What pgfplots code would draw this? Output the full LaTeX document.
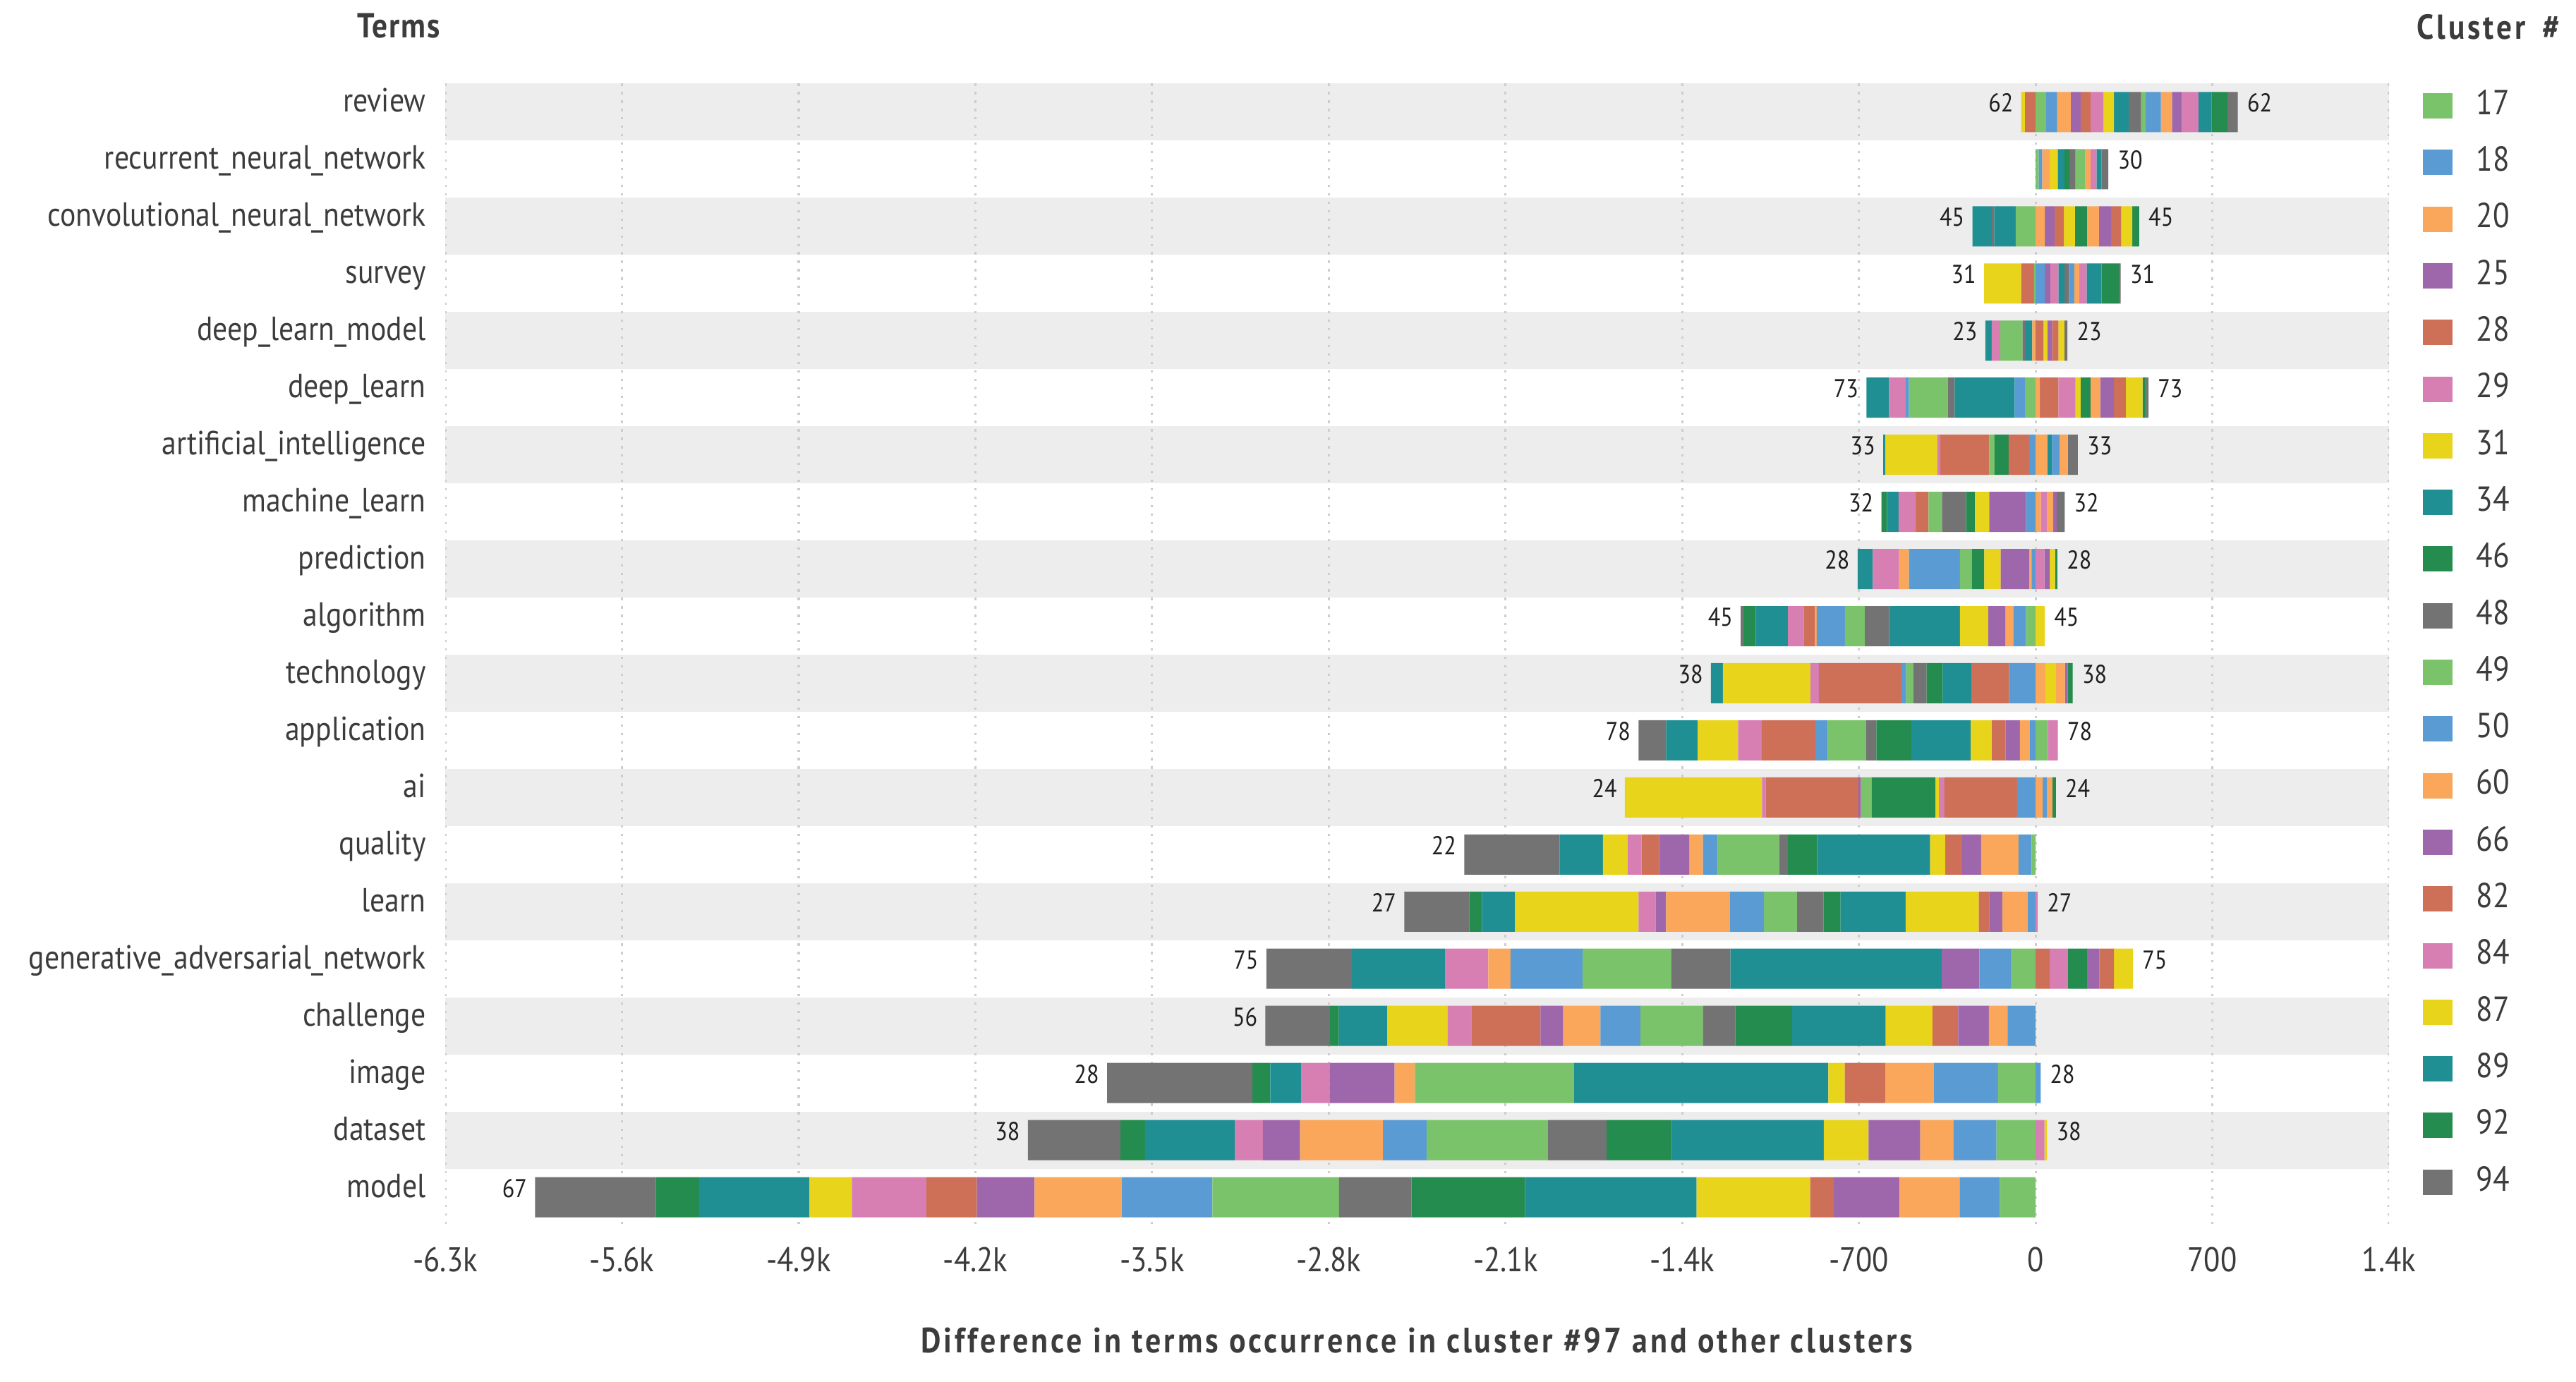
\documentclass[border=0pt]{standalone}
\usepackage{fontspec}
\setmainfont{PT Sans}[FakeStretch=0.88]
\usepackage{pgfplots}
\usepackage{pgfplotstable}
\pgfplotsset{compat=1.18}

\definecolor{cgreen}{HTML}{7AC36A}
\definecolor{cblue}{HTML}{5A9BD4}
\definecolor{corange}{HTML}{FAA75B}
\definecolor{cpurple}{HTML}{9E67AB}
\definecolor{cred}{HTML}{CE7058}
\definecolor{cpink}{HTML}{D77FB3}
\definecolor{cyellow}{HTML}{E9D41C}
\definecolor{cteal}{HTML}{1F8F94}
\definecolor{cdkgreen}{HTML}{258C50}
\definecolor{cgray}{HTML}{737373}
\definecolor{band}{HTML}{EDEDED}
\definecolor{gridc}{HTML}{CDCDCD}
\definecolor{txt}{HTML}{3C3C3C}

% rows: 0 = review (top) ... 19 = model (bottom)
% negative parts, stacked leftwards from 0
\pgfplotstableread{
y  s17 s18 s20 s25 s28 s29 s31 s34 s46 s48 s49 s50 s60 s66 s82 s84 s87 s89 s92 s94
0  0 0 0 0 0 0 0 0 0 0 0 0 0 0 -42 0 -15 0 0 0
1  0 0 0 0 0 0 0 0 0 0 0 0 0 0 0 0 0 0 0 0
2  -79 0 0 0 0 0 0 -85 0 -10 0 0 0 0 0 0 0 -76 0 0
3  -6 0 0 0 -51 0 -147 0 0 0 0 0 0 0 0 0 0 0 0 0
4  0 0 -13 0 0 0 0 -27 0 -12 -88 0 0 0 0 -34 0 -25 0 0
5  -42 -41 0 0 0 0 0 -238 0 -27 -154 -12 0 0 0 -66 0 -90 0 0
6  0 -25 0 0 -82 0 0 0 -56 0 -21 0 0 0 -193 -13 -205 -9 0 0
7  0 -38 0 -146 0 0 -56 0 -35 -96 -53 0 0 0 -53 -66 0 -46 -22 0
8  0 -16 -9 -113 0 0 -65 0 -50 0 -47 -202 -39 0 0 -104 0 -60 0 0
9  -38 -49 -32 -68 0 0 -113 -280 0 -96 -79 -112 -8 0 -44 -62 0 -128 -46 -13
10 0 -105 0 0 -149 0 0 -114 -64 -53 -28 -19 0 0 -327 -33 -347 -47 0 0
11 0 -22 -40 -57 -54 0 -84 -235 -139 -40 -152 -50 0 0 -212 -94 -160 -125 0 -109
12 0 -73 0 0 -288 -21 -14 0 -254 0 -42 0 0 -10 -367 -15 -543 0 0 0
13 -16 -52 -148 -75 -67 0 -60 -448 -116 -34 -243 -59 -53 -121 -69 -56 -97 -172 0 -377
14 0 -31 -101 -52 -41 0 -290 -258 -67 -105 -131 -134 -254 -41 0 -68 -489 -131 -50 -258
15 -98 -125 0 -149 0 0 0 -837 0 -234 -351 -286 -88 0 0 -171 0 -369 0 -339
16 0 -111 -74 -122 -102 0 -185 -371 -224 -129 -247 -159 -147 -90 -274 -94 -239 -192 -35 -256
17 -149 -255 -191 0 -161 0 -65 -1007 0 0 -631 0 -80 -258 0 -111 0 -124 -70 -576
18 -155 -170 -132 -205 0 0 -177 -602 -258 -232 -481 -173 -329 -147 0 -111 0 -356 -97 -367
19 -141 -160 -238 -261 -93 0 -450 -679 -450 -287 -502 -360 -344 -229 -200 -295 -168 -437 -172 -478
}\negdata

% positive parts, stacked rightwards from 0
\pgfplotstableread{
y  s17 s18 s20 s25 s28 s29 s31 s34 s46 s48 s49 s50 s60 s66 s82 s84 s87 s89 s92 s94
0  41 44 54 39 39 52 41 59 0 49 17 61 44 39 0 66 0 52 63 41
1  12 14 30 0 0 0 31 27 20 24 37 0 22 0 0 24 0 20 0 27
2  0 0 36 39 37 0 44 0 47 0 0 0 48 47 41 0 44 0 27 0
3  0 36 0 22 0 32 0 24 0 18 0 21 20 0 0 29 0 59 69 7
4  0 0 0 0 31 0 15 0 0 0 0 0 0 19 25 0 24 0 0 12
5  0 0 17 0 73 68 20 0 39 0 0 0 39 54 47 0 66 0 14 10
6  0 0 46 0 0 0 0 19 0 0 0 29 33 0 0 0 0 0 0 40
7  0 0 20 0 0 26 0 0 0 0 0 0 23 15 0 0 0 0 0 31
8  0 0 0 0 0 35 0 0 0 0 0 0 0 21 0 0 21 0 9 0
9  0 0 0 0 0 0 0 0 0 0 0 0 0 0 0 0 36 0 0 0
10 0 0 40 0 0 0 40 0 0 0 0 0 36 11 0 0 0 0 20 0
11 48 0 0 0 0 40 0 0 0 0 0 0 0 0 0 0 0 0 0 0
12 0 0 28 0 0 0 0 0 0 0 0 17 21 0 0 0 0 0 14 0
13 0 0 0 0 0 0 0 0 0 0 0 0 0 0 0 0 0 0 0 0
14 0 0 0 0 0 8 0 0 0 0 0 0 0 0 0 0 0 0 0 0
15 0 0 0 0 56 72 0 0 75 0 0 0 0 50 57 0 75 0 0 0
16 0 0 0 0 0 0 0 0 0 0 0 0 0 0 0 0 0 0 0 0
17 0 0 0 0 0 0 0 0 0 0 0 20 0 0 0 0 0 0 0 0
18 0 0 0 0 0 35 0 0 0 0 0 0 0 0 0 0 10 0 0 0
19 0 0 0 0 0 0 0 0 0 0 0 0 0 0 0 0 0 0 0 0
}\posdata

\pgfplotstableread{
x y t
-57 0 62
-250 2 45
-204 3 31
-199 4 23
-670 5 73
-604 6 33
-611 7 32
-705 8 28
-1168 9 45
-1286 10 38
-1573 11 78
-1627 12 24
-2263 13 22
-2501 14 27
-3047 15 75
-3051 16 56
-3678 17 28
-3992 18 38
-5944 19 67
}\leftlab

\pgfplotstableread{
x y t
801 0 62
288 1 30
410 2 45
337 3 31
126 4 23
447 5 73
167 6 33
115 7 32
86 8 28
36 9 45
147 10 38
88 11 78
80 12 24
8 14 27
385 15 75
20 17 28
45 18 38
}\rightlab

\pgfplotsset{
  base/.style={
    scale only axis, width=13.775cm, height=8.095cm,
    at={(3.155cm,1.1075cm)}, anchor=south west,
    xmin=-6300, xmax=1400, ymin=-0.5, ymax=19.5, y dir=reverse,
  },
  stk/.style={xbar stacked, bar width=0.704,
    every axis plot post/.append style={draw=none}},
  sqlegend/.style={legend image code/.code={\fill[##1] (0cm,-0.09cm) rectangle (0.21cm,0.09cm);}},
}
\newcommand{\seg}[2]{\addplot[fill=#2] table[x=s#1,y=y]{\negdata};}
\newcommand{\segl}[2]{\addplot[fill=#2] table[x=s#1,y=y]{\posdata};\addlegendentry{#1}}

\begin{document}
\begin{tikzpicture}
\path[use as bounding box] (0,0) rectangle (18.255,9.795);

% background: row bands and dotted grid
\begin{axis}[base, hide axis]
\fill[band] (axis cs:-6300,-0.5) rectangle (axis cs:1400,0.5);
\fill[band] (axis cs:-6300,1.5) rectangle (axis cs:1400,2.5);
\fill[band] (axis cs:-6300,3.5) rectangle (axis cs:1400,4.5);
\fill[band] (axis cs:-6300,5.5) rectangle (axis cs:1400,6.5);
\fill[band] (axis cs:-6300,7.5) rectangle (axis cs:1400,8.5);
\fill[band] (axis cs:-6300,9.5) rectangle (axis cs:1400,10.5);
\fill[band] (axis cs:-6300,11.5) rectangle (axis cs:1400,12.5);
\fill[band] (axis cs:-6300,13.5) rectangle (axis cs:1400,14.5);
\fill[band] (axis cs:-6300,15.5) rectangle (axis cs:1400,16.5);
\fill[band] (axis cs:-6300,17.5) rectangle (axis cs:1400,18.5);
\pgfplotsinvokeforeach{-6300,-5600,-4900,-4200,-3500,-2800,-2100,-1400,-700,0,700,1400}{
  \draw[gridc, line width=0.45pt, dash pattern=on 0.45pt off 1.25pt] (axis cs:#1,-0.5) -- (axis cs:#1,19.5);
}
\end{axis}

% negative parts and the axis texts
\begin{axis}[base, stk,
  axis line style={draw=none}, tick style={draw=none},
  xtick={-6300,-5600,-4900,-4200,-3500,-2800,-2100,-1400,-700,0,700,1400},
  xticklabels={-6.3k,-5.6k,-4.9k,-4.2k,-3.5k,-2.8k,-2.1k,-1.4k,-700,0,700,1.4k},
  ytick={0,...,19},
  yticklabels={review,recurrent\_neural\_network,convolutional\_neural\_network,survey,deep\_learn\_model,deep\_learn,artificial\_intelligence,machine\_learn,prediction,algorithm,technology,application,ai,quality,learn,generative\_adversarial\_network,challenge,image,dataset,model},
  xticklabel style={anchor=base, inner sep=0pt, yshift=-0.3225cm, font=\fontsize{6.9}{7}\selectfont, text=txt},
  yticklabel style={anchor=base east, inner sep=0pt, xshift=-0.13cm, font=\fontsize{6.75}{8}\selectfont, text=txt},
  xlabel={Difference in terms occurrence in cluster \#97 and other clusters},
  xlabel style={at={(axis description cs:0.5,0)}, anchor=base, inner sep=0pt, yshift=-0.8975cm, font=\bfseries\fontsize{7.1}{8}\selectfont\addfontfeature{LetterSpace=8}, text=txt},
]
\seg{17}{cgreen}
\seg{18}{cblue}
\seg{20}{corange}
\seg{25}{cpurple}
\seg{28}{cred}
\seg{29}{cpink}
\seg{31}{cyellow}
\seg{34}{cteal}
\seg{46}{cdkgreen}
\seg{48}{cgray}
\seg{49}{cgreen}
\seg{50}{cblue}
\seg{60}{corange}
\seg{66}{cpurple}
\seg{82}{cred}
\seg{84}{cpink}
\seg{87}{cyellow}
\seg{89}{cteal}
\seg{92}{cdkgreen}
\seg{94}{cgray}
\end{axis}

% positive parts and the legend
\begin{axis}[base, stk, hide axis,
  every axis plot post/.append style={sqlegend},
  legend style={at={(1,1)}, anchor=north west, xshift=0.235cm, yshift=0.05cm,
    draw=none, fill=none, inner sep=0pt, row sep=0pt, column sep=0.165cm,
    font=\fontsize{7}{8}\selectfont, text=txt,
    nodes={inner sep=0pt, minimum height=0.4015cm}},
  legend cell align=left,
]
\segl{17}{cgreen}
\segl{18}{cblue}
\segl{20}{corange}
\segl{25}{cpurple}
\segl{28}{cred}
\segl{29}{cpink}
\segl{31}{cyellow}
\segl{34}{cteal}
\segl{46}{cdkgreen}
\segl{48}{cgray}
\segl{49}{cgreen}
\segl{50}{cblue}
\segl{60}{corange}
\segl{66}{cpurple}
\segl{82}{cred}
\segl{84}{cpink}
\segl{87}{cyellow}
\segl{89}{cteal}
\segl{92}{cdkgreen}
\segl{94}{cgray}
\end{axis}

% term counts at both ends of the bars
\begin{axis}[base, hide axis, clip=false]
\addplot[only marks, mark=none, nodes near coords, point meta=explicit symbolic,
  nodes near coords style={anchor=base east, inner sep=0pt, xshift=-0.05cm, font=\fontsize{5.2}{6}\selectfont, text=black!88}]
  table[x=x, y=y, meta=t]{\leftlab};
\addplot[only marks, mark=none, nodes near coords, point meta=explicit symbolic,
  nodes near coords style={anchor=base west, inner sep=0pt, xshift=0.06cm, font=\fontsize{5.2}{6}\selectfont, text=black!88}]
  table[x=x, y=y, meta=t]{\rightlab};
\end{axis}

\node[anchor=base east, inner sep=0pt, font=\bfseries\fontsize{7}{8}\selectfont\addfontfeature{LetterSpace=4}, text=txt] at (3.125,9.525) {Terms};
\node[anchor=base west, inner sep=0pt, font=\bfseries\fontsize{7}{8}\selectfont\addfontfeature{LetterSpace=8}, text=txt] at (17.12,9.515) {Cluster\hspace{0.12cm}\#};
\end{tikzpicture}
\end{document}
